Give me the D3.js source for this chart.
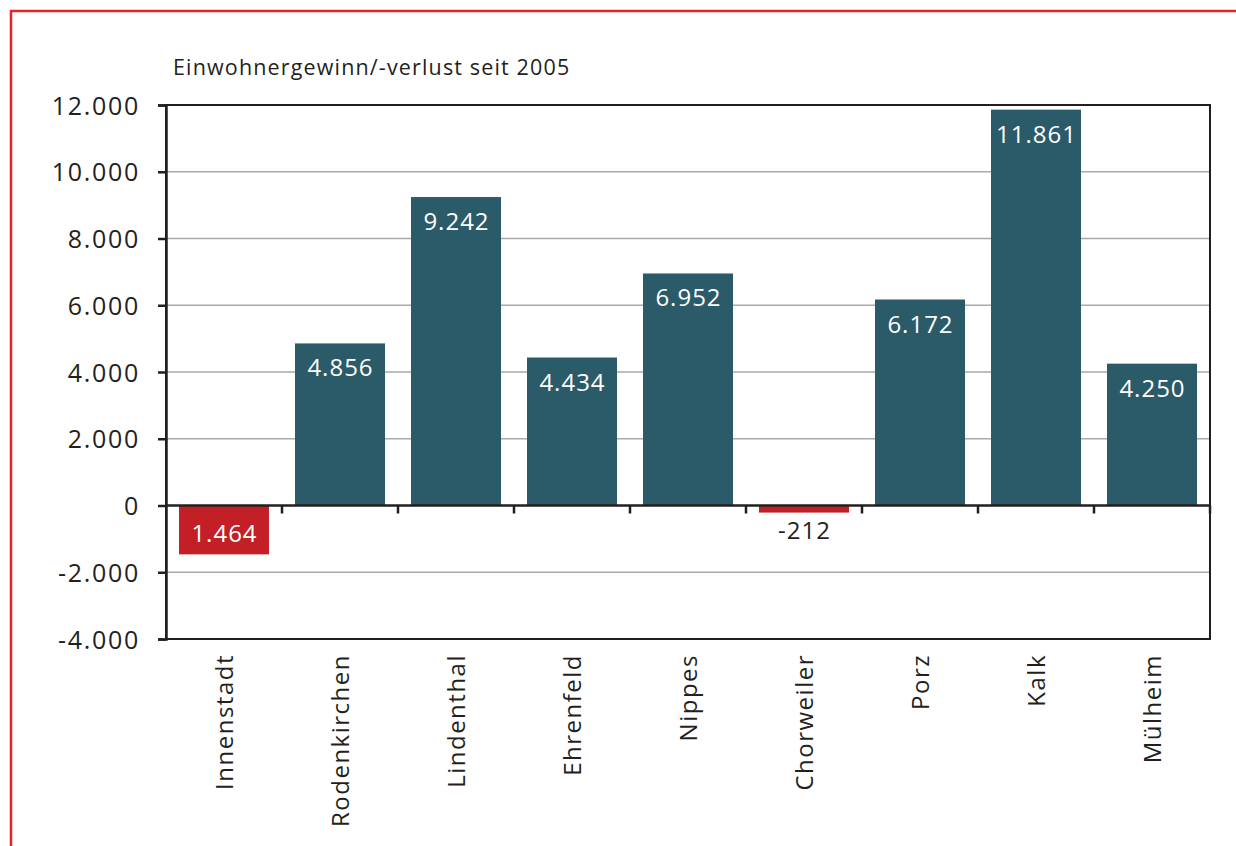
<!DOCTYPE html>
<html>
<head>
<meta charset="utf-8">
<script src="https://cdn.jsdelivr.net/npm/d3@7"></script>
<style>
  html, body { margin: 0; padding: 0; background: #fff; overflow: hidden; }
  svg { display: block; }
  svg text { font-family: "Open Sans", sans-serif; fill: #231f20; }
</style>
</head>
<body>
<svg id="chart"></svg>
<script>
// Einwohnergewinn/-verlust seit 2005, Stadtbezirke
var categories = ["Innenstadt", "Rodenkirchen", "Lindenthal", "Ehrenfeld", "Nippes",
                  "Chorweiler", "Porz", "Kalk", "Mülheim"];
var values = [-1464, 4856, 9242, 4434, 6952, -212, 6172, 11861, 4250];
var valueLabels = ["1.464", "4.856", "9.242", "4.434", "6.952", "-212", "6.172", "11.861", "4.250"];
var yTicks = [-4000, -2000, 0, 2000, 4000, 6000, 8000, 10000, 12000];
var title = "Einwohnergewinn/-verlust seit 2005";

var width = 1236,
    height = 846,
    margin = { top: 105, left: 166, right: 26, bottom: 207 },
    innerWidth = width - margin.left - margin.right,
    innerHeight = height - margin.top - margin.bottom;

var de = d3.formatLocale({ decimal: ",", thousands: ".", grouping: [3], currency: ["", " €"], minus: "-" });
var fmt = de.format(",d");

var svg = d3.select("#chart")
    .attr("width", width)
    .attr("height", height);

// red frame round the figure (runs off the right and bottom edge)
svg.append("path")
    .attr("d", "M11," + height + "V11H" + width)
    .attr("fill", "none")
    .attr("stroke", "#e8222b")
    .attr("stroke-width", 2.5);

svg.append("text")
    .attr("x", 173)
    .attr("y", 75)
    .style("font-size", "21.5px")
    .style("letter-spacing", "1.15px")
    .text(title);

var chart = svg.append("g")
    .attr("transform", "translate(" + margin.left + "," + margin.top + ")");

var x = d3.scaleBand()
    .domain(categories)
    .range([0, innerWidth])
    .paddingInner(0.224)
    .paddingOuter(0.112);

var y = d3.scaleLinear()
    .domain([-4000, 12000])
    .range([innerHeight, 0]);

// grid
chart.append("g")
    .selectAll("line")
    .data(yTicks.filter(function (d) { return d !== 0 && d !== 12000 && d !== -4000; }))
    .enter().append("line")
    .attr("x1", 0)
    .attr("x2", innerWidth)
    .attr("y1", function (d) { return y(d); })
    .attr("y2", function (d) { return y(d); })
    .attr("stroke", "#a9a9ab")
    .attr("stroke-width", 1.5);

// bars
chart.selectAll(".bar")
    .data(values)
    .enter().append("rect")
    .attr("class", "bar")
    .attr("x", function (d, i) { return x(categories[i]); })
    .attr("width", x.bandwidth())
    .attr("y", function (d) { return y(Math.max(0, d)); })
    .attr("height", function (d) { return Math.abs(y(d) - y(0)); })
    .attr("fill", function (d) { return d < 0 ? "#c21f26" : "#2b5a69"; });

// frame
chart.append("rect")
    .attr("x", 0)
    .attr("y", 0)
    .attr("width", innerWidth)
    .attr("height", innerHeight)
    .attr("fill", "none")
    .attr("stroke", "#231f20")
    .attr("stroke-width", 2);

// y axis
var yAxis = d3.axisLeft(y)
    .tickValues(yTicks)
    .tickFormat(fmt)
    .tickSize(8)
    .tickPadding(18);

var yg = chart.append("g").call(yAxis);
yg.select(".domain").attr("stroke", "#231f20").attr("stroke-width", 2.5);
yg.selectAll(".tick line").attr("stroke", "#231f20").attr("stroke-width", 2.5);
yg.selectAll(".tick text")
    .style("font-size", "25px")
    .style("letter-spacing", "1.7px")
    .attr("fill", "#231f20")
    .attr("dy", "0.36em");

// zero line with ticks between the categories
var bounds = d3.range(categories.length + 1).map(function (i) {
    return i * x.step();
});
var zero = chart.append("g").attr("transform", "translate(0," + y(0) + ")");
zero.append("line")
    .attr("x1", 0)
    .attr("x2", innerWidth)
    .attr("stroke", "#231f20")
    .attr("stroke-width", 2.5);
zero.selectAll(".xt")
    .data(bounds.slice(1))
    .enter().append("line")
    .attr("class", "xt")
    .attr("x1", function (d) { return d; })
    .attr("x2", function (d) { return d; })
    .attr("y1", 0)
    .attr("y2", 8)
    .attr("stroke", "#231f20")
    .attr("stroke-width", 2.5);

// value labels
chart.selectAll(".val")
    .data(values)
    .enter().append("text")
    .attr("class", "val")
    .attr("x", function (d, i) { return x(categories[i]) + x.bandwidth() / 2 + 0.5; })
    .attr("y", function (d) {
        if (d >= 0) return y(d) + 33;
        var h = y(d) - y(0);
        return h > 30 ? y(d) - 12 : y(d) + 26;
    })
    .attr("text-anchor", "middle")
    .style("font-size", "24px")
    .style("letter-spacing", "1px")
    .style("fill", function (d) {
        return (d >= 0 || y(d) - y(0) > 30) ? "#ffffff" : "#231f20";
    })
    .text(function (d, i) { return valueLabels[i]; });

// category labels, rotated
chart.selectAll(".cat")
    .data(categories)
    .enter().append("text")
    .attr("class", "cat")
    .attr("transform", function (d) {
        return "translate(" + (x(d) + x.bandwidth() / 2) + "," + (innerHeight + 15) + ") rotate(-90)";
    })
    .attr("text-anchor", "end")
    .attr("dy", "0.36em")
    .style("font-size", "24px")
    .style("letter-spacing", "1.5px")
    .text(function (d) { return d; });
</script>
</body>
</html>
